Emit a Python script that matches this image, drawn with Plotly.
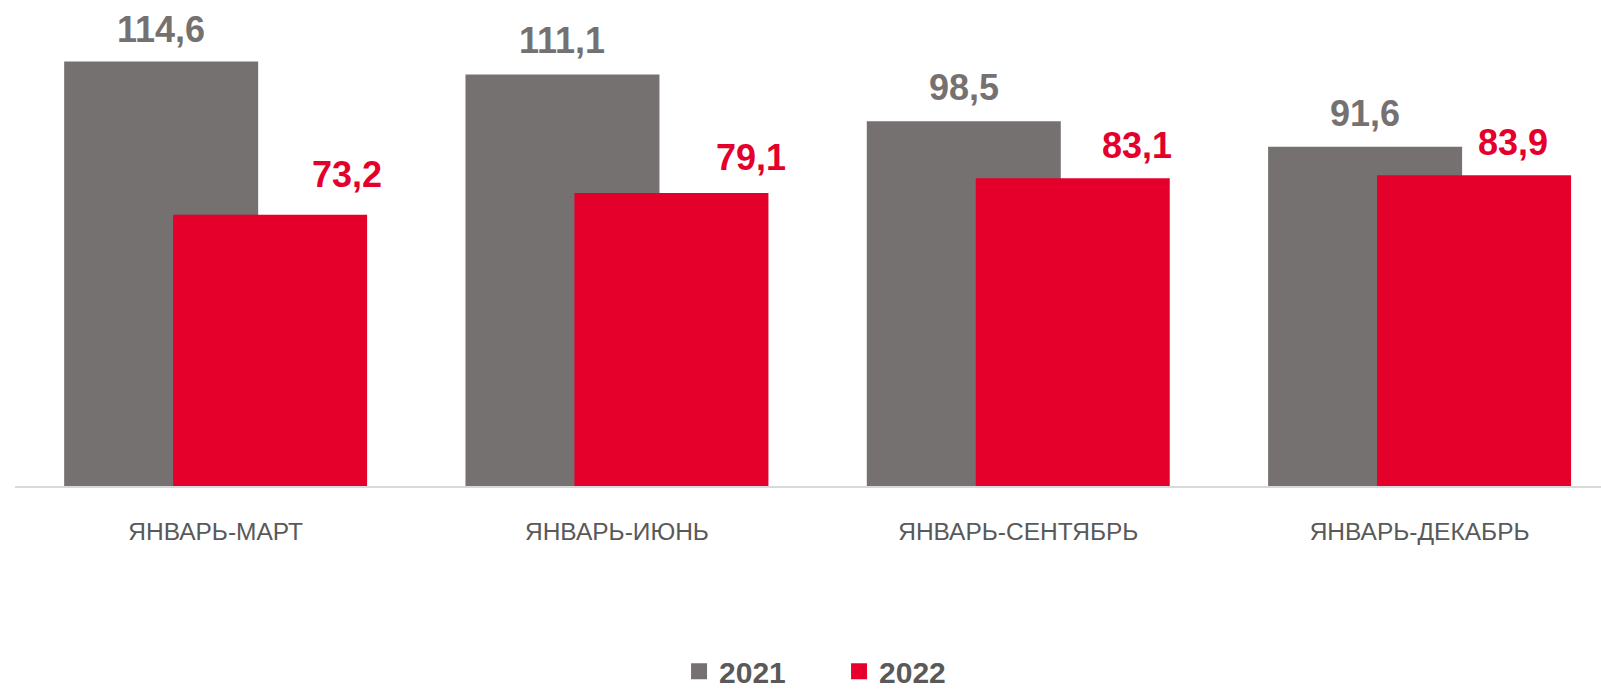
import plotly.graph_objects as go

categories = ["ЯНВАРЬ-МАРТ", "ЯНВАРЬ-ИЮНЬ", "ЯНВАРЬ-СЕНТЯБРЬ", "ЯНВАРЬ-ДЕКАБРЬ"]
series_names = ["2021", "2022"]
values_2021 = [114.6, 111.1, 98.5, 91.6]
values_2022 = [73.2, 79.1, 83.1, 83.9]

# style
GREY = "#767171"
RED = "#E4002B"
TXT = "#595959"
FONT = "Liberation Sans, Arial, sans-serif"
BAR_W = 0.4834
OFF_GREY = -0.3775
OFF_RED = -0.106
red_label_dx = [77, 80, 64, 39]
grey_label_gap = [18, 20, 20, 20]
red_label_gap = [28, 23, 20, 20]

def fmt(v):
    return f"{v:.1f}".replace(".", ",")

idx = list(range(len(categories)))

fig = go.Figure()
fig.add_trace(go.Bar(x=idx, y=values_2021, name=series_names[0], marker_color=GREY,
                     marker_line_width=0, width=BAR_W, offset=OFF_GREY, showlegend=False,
                     hoverinfo="skip"))
fig.add_trace(go.Bar(x=idx, y=values_2022, name=series_names[1], marker_color=RED,
                     marker_line_width=0, width=BAR_W, offset=OFF_RED, showlegend=False,
                     hoverinfo="skip"))
# legend proxies
for name, col in zip(series_names, [GREY, RED]):
    fig.add_trace(go.Scatter(x=[None], y=[None], mode="markers", name=name,
                             marker=dict(symbol="square", size=16, color=col)))

annotations = []
for i in idx:
    annotations.append(dict(x=i + OFF_GREY + BAR_W / 2, y=values_2021[i], xref="x", yref="y",
                            text=fmt(values_2021[i]), showarrow=False, yanchor="bottom",
                            yshift=grey_label_gap[i] - 9,
                            font=dict(family=FONT, size=36, color=GREY, weight="bold")))
    annotations.append(dict(x=i + OFF_RED + BAR_W / 2, y=values_2022[i], xref="x", yref="y",
                            text=fmt(values_2022[i]), showarrow=False, yanchor="bottom",
                            xshift=red_label_dx[i], yshift=red_label_gap[i] - 10,
                            font=dict(family=FONT, size=36, color=RED, weight="bold")))

fig.update_layout(
    width=1601, height=690,
    margin=dict(l=15, r=0, t=0, b=204, autoexpand=False),
    paper_bgcolor="white", plot_bgcolor="white",
    barmode="overlay",
    annotations=annotations,
    legend=dict(orientation="h", x=0.4187, xanchor="left",
                yref="container", y=0.027, yanchor="middle",
                font=dict(family=FONT, size=30, color=TXT, weight="bold"),
                itemsizing="trace", entrywidth=115, entrywidthmode="pixels"),
    xaxis=dict(tickmode="array", tickvals=idx, ticktext=categories,
               range=[-0.5, 3.452], showgrid=False, zeroline=False,
               showline=True, linecolor="#D9D9D9", linewidth=2,
               ticks="", ticklabelstandoff=23,
               tickfont=dict(family=FONT, size=24.5, color=TXT)),
    yaxis=dict(range=[0, 131.2], visible=False, showgrid=False, zeroline=False),
)

fig.write_html("out.html", config={"displayModeBar": False},
               post_script="document.body.style.margin='0px';")
